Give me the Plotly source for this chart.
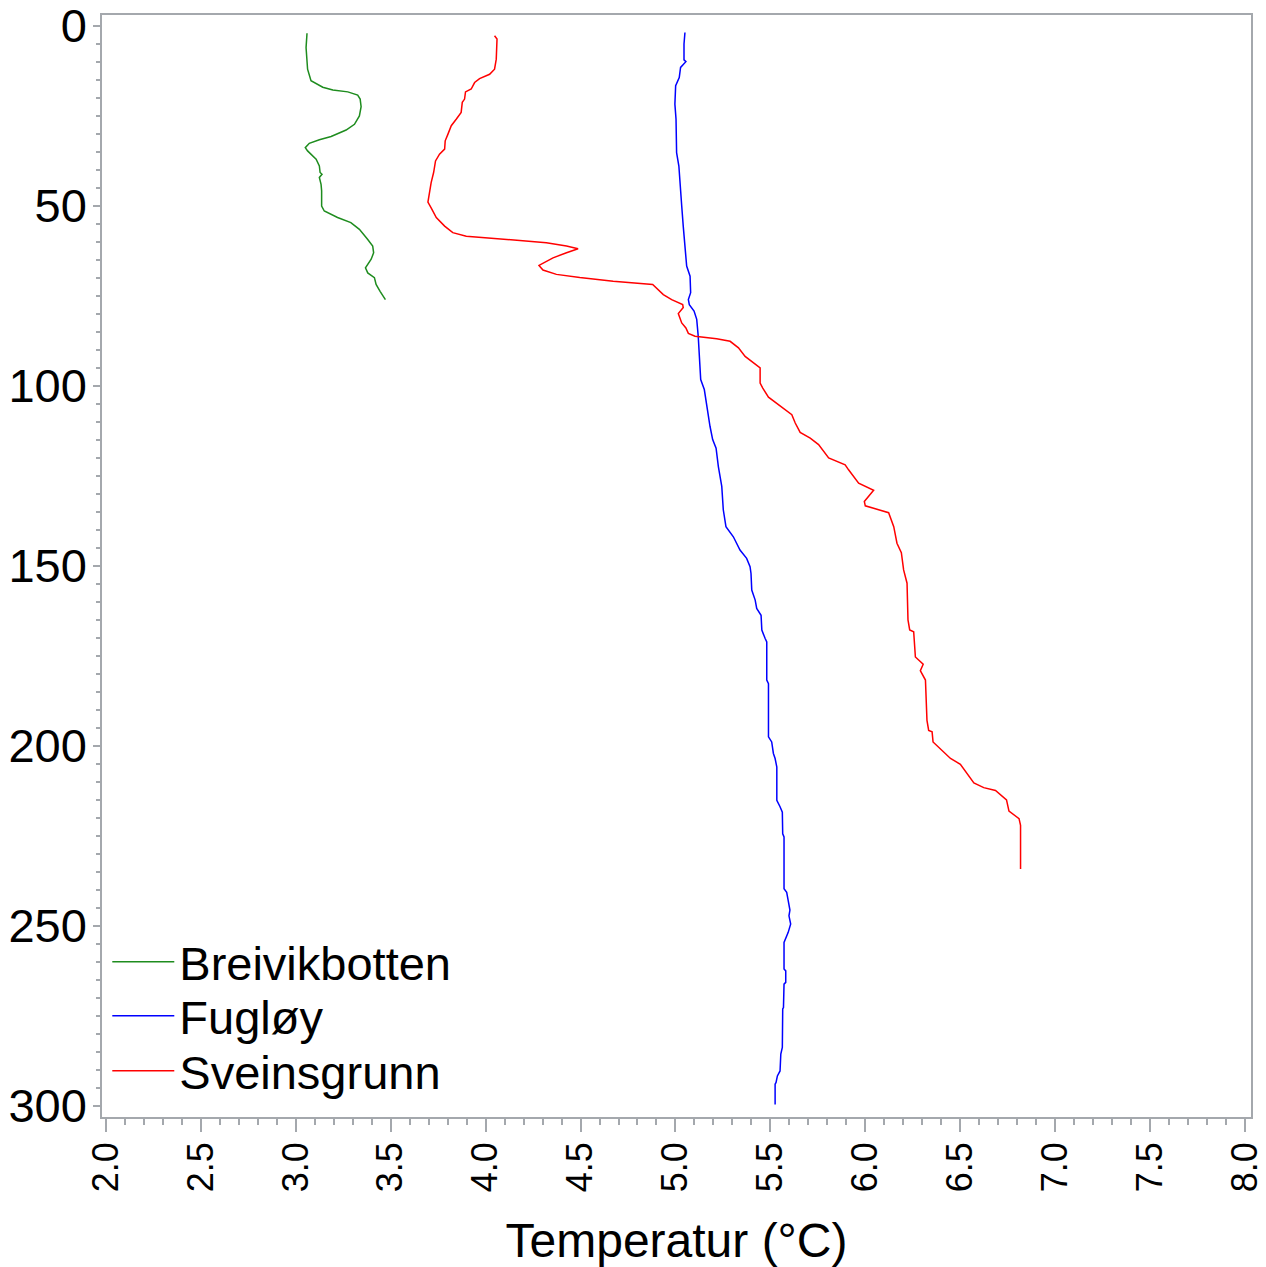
import plotly.graph_objects as go

# Breivikbotten (green)
breivik_depth = [2, 6, 12, 15.2, 17, 17.8, 18.3, 19.2, 20.3, 22.4,
                 25, 27.3, 28.9, 29.6, 30.7, 31.6, 32.6, 33.8, 34.7, 37,
                 38.9, 40.7, 41.2, 42.1, 44, 45.8, 50, 51.4, 53.2, 54.6,
                 56.5, 59.3, 61.1, 63, 64.8, 67.2, 68.6, 69.9, 71.8, 73.7, 76]
breivik_temp = [3.059, 3.054, 3.062, 3.08, 3.142, 3.195, 3.274, 3.326, 3.339, 3.344,
                3.335, 3.309, 3.265, 3.23, 3.186, 3.124, 3.071, 3.05, 3.062, 3.107,
                3.124, 3.128, 3.138, 3.124, 3.133, 3.136, 3.136, 3.15, 3.22, 3.29,
                3.335, 3.379, 3.405, 3.41, 3.397, 3.367, 3.379, 3.414, 3.423, 3.444, 3.472]

# Fugløy (blue)
fugloy_depth = [1.8, 5, 9.4, 9.9, 11.5, 14.3, 16.6, 21.7, 25.9, 35.2,
                38.9, 44.4, 50, 55.6, 61.1, 66.7, 69.5, 74.1, 76, 77.4,
                79.2, 81.5, 86.2, 93.6, 98.2, 101, 105.7, 111.2, 114.9, 117.3,
                122.4, 127.9, 134.4, 139.1, 141.9, 145.6, 147.9, 150.2, 152.1, 156.7,
                159.5, 161.8, 163.7, 167.8, 170.1, 171.1, 181.7, 182.7, 197.5, 198.9,
                202.1, 203.5, 205.9, 215.1, 216.9, 218.4, 224.4, 225.3, 239.7, 240.7,
                243, 245.6, 247.2, 249.5, 251.8, 253.9, 254.6, 262, 262.5, 265.7,
                266.2, 272.7, 273.1, 283.8, 285.6, 290.3, 291.7, 293.5, 294, 299.6]
fugloy_temp = [5.05, 5.045, 5.045, 5.055, 5.027, 5.02, 5.001, 4.997, 5.003, 5.006,
               5.018, 5.024, 5.033, 5.041, 5.05, 5.059, 5.077, 5.08, 5.068, 5.073,
               5.098, 5.112, 5.12, 5.126, 5.133, 5.152, 5.164, 5.182, 5.196, 5.214,
               5.226, 5.244, 5.252, 5.266, 5.305, 5.34, 5.375, 5.393, 5.398, 5.402,
               5.42, 5.428, 5.451, 5.455, 5.472, 5.481, 5.481, 5.49, 5.49, 5.507,
               5.516, 5.525, 5.534, 5.534, 5.551, 5.563, 5.565, 5.572, 5.572, 5.586,
               5.594, 5.603, 5.598, 5.607, 5.594, 5.578, 5.572, 5.572, 5.581, 5.581,
               5.572, 5.569, 5.565, 5.563, 5.555, 5.551, 5.537, 5.53, 5.525, 5.525]

# Sveinsgrunn (red)
sveins_depth = [2.7, 3.6, 9.2, 12, 13.4, 14.6, 15.7, 17.5, 18.3, 20.3,
                21.2, 24, 25.9, 27.7, 30.1, 31.9, 34.2, 35.6, 37.5, 40.7,
                43.5, 46.3, 48.9, 50.5, 53.2, 55.6, 57.4, 58.4, 59.1, 60.2,
                61.1, 61.9, 63, 64.4, 66.5, 67.8, 69, 69.9, 70.9, 71.8,
                74.6, 76, 77.4, 78.2, 79.9, 82.5, 83.9, 85.4, 86.2, 86.9,
                87.6, 89.4, 91.8, 94.5, 95, 99.2, 100.6, 103.1, 105.5, 108,
                110.3, 112.9, 114.5, 116.3, 120, 121.9, 123.3, 127, 129, 132.1,
                133.3, 135.2, 139.1, 143.7, 146.3, 151.1, 154.8, 165, 167.8, 168.3,
                175.3, 177.3, 179.1, 181.7, 192.9, 195.7, 196.1, 198.9, 203.5, 205.1,
                210.3, 211.6, 212.4, 215, 218.1, 220.2, 222.1, 234.2]
sveins_temp = [4.047, 4.06, 4.056, 4.047, 4.021, 3.968, 3.942, 3.924, 3.894, 3.889,
               3.877, 3.871, 3.845, 3.819, 3.801, 3.787, 3.784, 3.757, 3.736, 3.726,
               3.713, 3.704, 3.696, 3.713, 3.74, 3.784, 3.827, 3.898, 4.056, 4.32,
               4.426, 4.487, 4.426, 4.355, 4.281, 4.302, 4.373, 4.496, 4.672, 4.88,
               4.936, 4.98, 5.038, 5.041, 5.015, 5.033, 5.055, 5.068, 5.103, 5.217,
               5.288, 5.332, 5.367, 5.437, 5.446, 5.446, 5.46, 5.49, 5.551, 5.613,
               5.631, 5.657, 5.71, 5.754, 5.807, 5.894, 5.912, 5.965, 6.044, 5.995,
               6.0, 6.123, 6.15, 6.167, 6.19, 6.202, 6.22, 6.225, 6.234, 6.255,
               6.264, 6.305, 6.29, 6.317, 6.325, 6.334, 6.352, 6.357, 6.449, 6.501,
               6.572, 6.624, 6.686, 6.744, 6.757, 6.81, 6.818, 6.818]

series_names = ["Breivikbotten", "Fugløy", "Sveinsgrunn"]
series_colors = ["#1e8c1e", "#0000ff", "#ff0000"]
x_title = "Temperatur (°C)"

FONT = "Liberation Sans, Arial, Helvetica, sans-serif"
AXIS_COLOR = "#a4a8ad"
legend_ids = ["legend", "legend2", "legend3"]
legend_rows = [0.1405, 0.0915, 0.0415]

fig = go.Figure()
for name, color, t, d, lg in zip(series_names, series_colors,
                                 [breivik_temp, fugloy_temp, sveins_temp],
                                 [breivik_depth, fugloy_depth, sveins_depth],
                                 legend_ids):
    fig.add_trace(go.Scatter(x=t, y=d, mode="lines", name=name, legend=lg,
                             line=dict(color=color, width=1.5)))

legend_style = dict(x=0.0046, xanchor="left", yanchor="middle",
                    bgcolor="rgba(0,0,0,0)", borderwidth=0,
                    font=dict(size=47, family=FONT, color="black"),
                    itemwidth=62)
fig.update_layout(
    width=1266, height=1267,
    margin=dict(l=102, r=15, t=15, b=150, pad=0),
    paper_bgcolor="white", plot_bgcolor="white",
    font=dict(family=FONT, size=47, color="black"),
    showlegend=True,
    legend=dict(y=legend_rows[0], **legend_style),
    legend2=dict(y=legend_rows[1], **legend_style),
    legend3=dict(y=legend_rows[2], **legend_style),
)
fig.update_xaxes(
    range=[1.979, 8.032], tick0=2, dtick=0.5, tickformat=".1f",
    tickangle=-90, ticks="outside", ticklen=13, tickwidth=1.5, tickcolor=AXIS_COLOR,
    ticklabelstandoff=-4, ticklabeloverflow="allow", automargin=False,
    minor=dict(dtick=0.1, ticks="outside", ticklen=6, tickwidth=1.5, tickcolor=AXIS_COLOR),
    showline=True, linecolor=AXIS_COLOR, linewidth=1.5, mirror=True,
    showgrid=False, zeroline=False,
    tickfont=dict(size=36, family=FONT, color="black"),
    title=dict(text=x_title, font=dict(size=48, family=FONT, color="black"), standoff=36),
)
fig.update_yaxes(
    range=[303.1, -3.06], tick0=0, dtick=50,
    ticks="outside", ticklen=7, tickwidth=1.5, tickcolor=AXIS_COLOR,
    ticklabelstandoff=-3, ticklabeloverflow="allow", automargin=False,
    minor=dict(dtick=5, ticks="outside", ticklen=4, tickwidth=1.5, tickcolor=AXIS_COLOR),
    showline=True, linecolor=AXIS_COLOR, linewidth=1.5, mirror=True,
    showgrid=False, zeroline=False,
    tickfont=dict(size=47, family=FONT, color="black"),
)

fig.write_html("out.html", config={"displayModeBar": False},
               post_script="document.body.style.margin='0';")
